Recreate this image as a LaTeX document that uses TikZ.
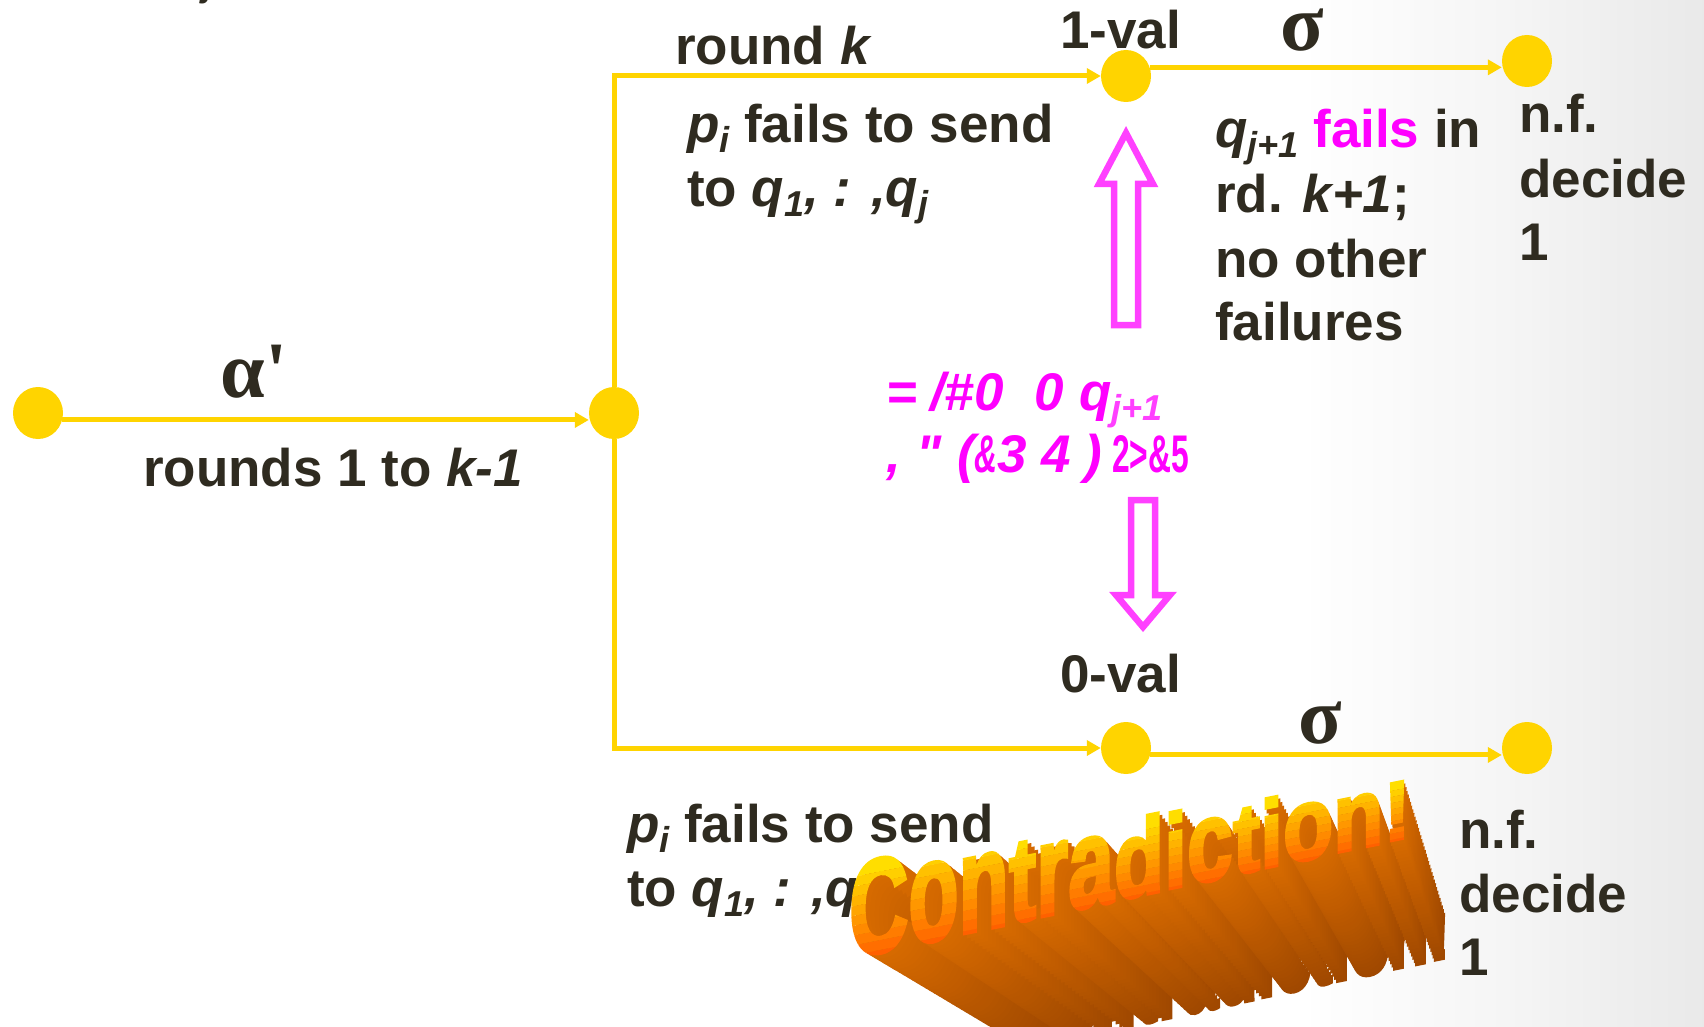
\documentclass[tikz,border=0pt]{standalone}
\usepackage{fontspec}
\usepackage{graphicx}
\setmainfont{Liberation Sans}
\newfontfamily\mainsans{Liberation Sans}
\newfontfamily\wafont{Liberation Sans}[FakeBold=3]
\newfontfamily\grkfont{Liberation Serif}
\usetikzlibrary{arrows.meta,shapes.geometric}
\definecolor{ink}{RGB}{47,43,32}
\definecolor{dotY}{RGB}{255,212,0}
\definecolor{mag}{RGB}{255,0,255}
\definecolor{magA}{RGB}{255,64,255}
\definecolor{waA}{RGB}{255,96,0}
\definecolor{waB}{RGB}{255,222,0}
\definecolor{exA}{RGB}{160,72,0}
\definecolor{exB}{RGB}{214,106,0}
\newcommand\sbs[1]{\raisebox{-10pt}{\fontsize{36}{36}\selectfont\itshape #1}}
% one extruded copy of a WordArt letter: #1 letter, #2 X, #3 w, #4 depth factor, #5 colour, #6 name, #7 extra height
\newcommand\waletter[7]{%
  \pgfmathsetmacro\wyb{958-0.216*(#2-849)}%
  \pgfmathsetmacro\wv{#7*(98-0.0695*(#2+#3/2-849))/98}%
  \pgfmathsetmacro\wox{1590+#4*(#2-1590)}%
  \pgfmathsetmacro\woy{1385+#4*(\wyb-1385)}%
  \begin{scope}[shift={(\wox,\woy)}, scale=#4, yslant=0.2, xscale=0.6, yscale=\wv, transform shape]
    \node[wa, text=#5] (#6) at (0,0) {#1};
  \end{scope}}
% one gradient band of a front-face letter: #1 letter, #2 X, #3 w, #4 band, #5 name, #6 extra height
\newcommand\waband[6]{%
  \pgfmathsetmacro\wyb{958-0.216*(#2-849)}%
  \pgfmathsetmacro\wv{#6*(98-0.0695*(#2+#3/2-849))/98}%
  \pgfmathsetmacro\wyl{8-10*#4}%
  \pgfmathsetmacro\wyh{#4==9 ? -200 : -2-10*#4}%
  \pgfmathtruncatemacro\wpc{#4*100/9}%
  \colorlet{bandc}{waB!\wpc!waA}%
  \begin{scope}[shift={(#2,\wyb)}, yslant=0.2, xscale=0.6, yscale=\wv, transform shape]
    \clip (-20,\wyl) rectangle (200,\wyh);
    \node[wa, text=bandc] (#5) at (0,0) {#1};
  \end{scope}}
\newcommand\waletters{C/849/59.3/1, o/908.3/50.2/1.12, n/958.5/50.2/1.12, t/1008.7/27.4/1, r/1036.1/32.0/1.12, a/1068.1/45.7/1.12, d/1113.8/50.2/1, i/1164.0/22.9/1, c/1186.9/45.7/1.12, t/1232.6/27.4/1, i/1260.0/22.9/1, o/1282.9/50.2/1.12, n/1333.1/50.2/1.12, !/1383.3/27.4/1}
\begin{document}
\begin{tikzpicture}[x=1pt,y=-1pt,
  txt/.style={anchor=base west, inner sep=0pt, font=\fontsize{53}{64}\selectfont\mainsans\bfseries, text=ink},
  greek/.style={anchor=base, inner sep=0pt, font=\fontsize{80}{80}\selectfont\grkfont\bfseries, text=ink},
  pk/.style={anchor=base west, inner sep=0pt, font=\fontsize{53}{64}\selectfont\mainsans\bfseries\itshape, text=mag},
  ydot/.style={ellipse, fill=dotY, minimum width=50pt, minimum height=52pt, inner sep=0pt},
  conn/.style={draw=dotY, line width=5pt, -{Triangle[length=14pt,width=15pt]}},
  parrow/.style={draw=magA, line width=6.5pt, fill=white, line join=miter},
  wa/.style={anchor=base west, inner sep=0pt, font=\fontsize{137}{137}\selectfont\wafont\bfseries}
]
\useasboundingbox (0,0) rectangle (1704,1027);
% background
\fill[white] (0,0) rectangle (1704,1027);
\shade[left color=white, right color=black!4] (1300,0) rectangle (1510,1027);
\shade[left color=black!4, right color=black!8.5] (1509,0) rectangle (1704,1027);

% top-left fragment
\node[txt, font=\fontsize{36}{36}\selectfont\mainsans\bfseries\itshape] (frag) at (203,-3) {j};

% pink block arrows
\draw[parrow] (1126,133) -- (1153,184) -- (1138,184) -- (1138,325) -- (1114,325) -- (1114,184) -- (1099,184) -- cycle;
\draw[parrow] (1143,627) -- (1170,595) -- (1155,595) -- (1155,500) -- (1131,500) -- (1131,595) -- (1116,595) -- cycle;

% dots
\node[ydot] (a) at (38,413) {};
\node[ydot] (b) at (614,413) {};
\node[ydot] (c) at (1126,76) {};
\node[ydot] (d) at (1527,61) {};
\node[ydot] (e) at (1126,748) {};
\node[ydot] (f) at (1527,748) {};

% connectors
\draw[conn] (a.-16) -- (a.-16 -| b.west);
\draw[conn] (b.north) |- (c.west);
\draw[conn] (b.south) |- (e.west);
\draw[conn] (c.20) -- (c.20 -| d.west);
\draw[conn] (e.-16) -- (e.-16 -| f.west);

% labels
\node[greek] (alpha) at (254,397) {α'};
\node[txt] (rounds) at (143,486) {rounds 1 to \textit{k-1}};
\node[txt] (roundk) at (675,65) {round \textit{k}};
\node[txt] (oneval) at (1060,49) {1-val};
\node[greek] (sig1) at (1302,51) {σ};
\node[txt] (pt1) at (687,143) {\textit{p}\sbs{i} fails to send};
\node[txt] (pt2) at (687,206) {to \textit{q}\sbs{1}\textit{, : ,q}\sbs{j}};
\node[txt] (q1) at (1215,148) {\textit{q}\sbs{j+1} \textcolor{mag}{fails} in};
\node[txt] (q2) at (1215,212) {rd. \textit{k+1};};
\node[txt] (q3) at (1215,277) {no other};
\node[txt] (q4) at (1215,340) {failures};
\node[txt] (nf1) at (1519,133) {n.f.};
\node[txt] (dec1) at (1519,197) {decide};
\node[txt] (one1) at (1519,260) {1};

\node[pk] (pink1) at (886,410) {=\hspace{13pt}/\#0\hspace{31pt}0\hspace{15pt}q\textcolor{magA}{\sbs{j+1}}};
\node[pk] (pink2) at (886,472) {,\hspace{16pt}"\hspace{15pt}(\scalebox{0.6}[1]{\&}3\hspace{14pt}4\hspace{14pt})\hspace{10pt}\scalebox{0.6}[1]{\upshape 2>\&5}};

\node[txt] (zeroval) at (1060,692) {0-val};
\node[greek] (sig2) at (1320,743) {σ};
\node[txt] (pb1) at (627,842) {\textit{p}\sbs{i} fails to send};
\node[txt] (pb2) at (627,906) {to \textit{q}\sbs{1}\textit{, : ,q}\sbs{j}};
\node[txt] (nf2) at (1459,848) {n.f.};
\node[txt] (dec2) at (1459,912) {decide};
\node[txt] (one2) at (1459,975) {1};

% WordArt "Contradiction!": extrusion, back to front
\foreach \k in {0,...,35}{
  \pgfmathsetmacro\f{0.78+0.0061*\k}
  \pgfmathtruncatemacro\pc{\k*100/35}
  \colorlet{exC}{exB!\pc!exA}
  \foreach \L/\X/\W/\H [count=\j] in \waletters {
    \waletter{\L}{\X}{\W}{\f}{exC}{ex\k l\j}{\H}
  }
}
% WordArt front face, yellow-to-orange bands
\foreach \L/\X/\W/\H [count=\j] in \waletters {
  \foreach \i in {0,...,9}{
    \waband{\L}{\X}{\W}{\i}{fa\j b\i}{\H}
  }
}
\end{tikzpicture}
\end{document}
